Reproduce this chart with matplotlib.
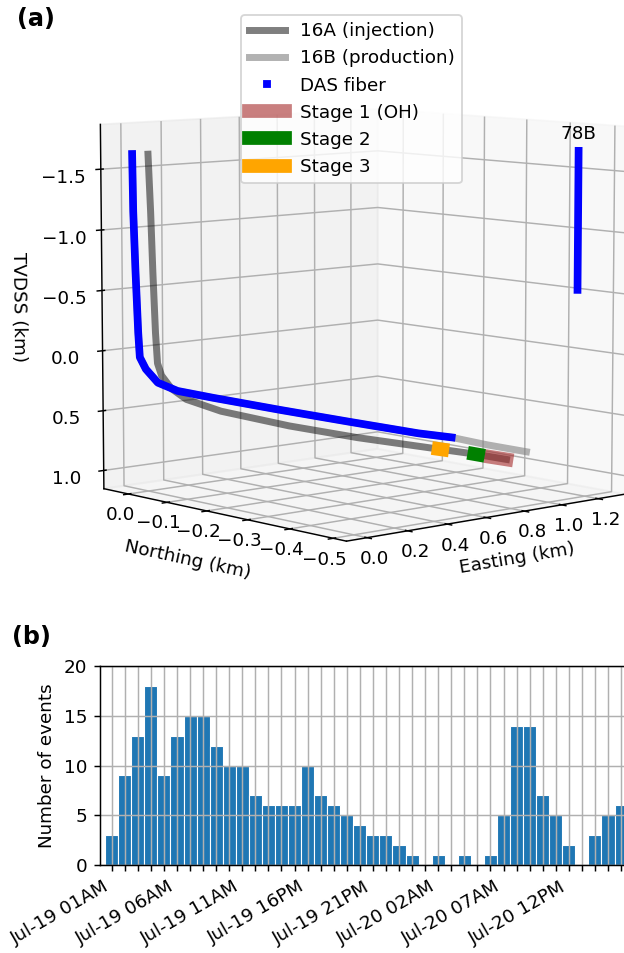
import matplotlib
matplotlib.use("Agg")
import matplotlib.pyplot as plt
from matplotlib.lines import Line2D
import numpy as np
import pandas as pd

# ---- (b) hourly event counts, first bin Jul-19 01:00 ----
event_counts = [3, 9, 13, 18, 9, 13, 15, 15, 12, 10, 10, 7, 6, 6, 6, 10, 7, 6, 5, 4,
                3, 3, 2, 1, 0, 1, 0, 1, 0, 1, 5, 14, 14, 7, 5, 2, 0, 3, 5, 6]
hours = pd.date_range("2024-07-19 01:00", periods=len(event_counts), freq="h")

# ---- (a) well trajectories in km: easting, northing, TVDSS ----
e_16a = [0.01, 0.015, 0.02, 0.025, 0.03, 0.04, 0.07, 0.115, 0.21, 0.405, 0.60, 0.80, 0.94, 1.03]
n_16a = [0.0, -0.003, -0.005, -0.008, -0.01, -0.015, -0.025, -0.04, -0.08, -0.155, -0.23, -0.305, -0.356, -0.392]
z_16a = [-1.63, -1.16, -0.66, -0.16, 0.09, 0.19, 0.30, 0.39, 0.485, 0.605, 0.70, 0.78, 0.835, 0.878]

e_16b = [-0.03, -0.027, -0.022, -0.015, -0.01, 0.01, 0.05, 0.11, 0.21, 0.405, 0.60, 0.80, 0.90, 1.00, 1.12]
n_16b = [0.02, 0.02, 0.018, 0.016, 0.015, 0.01, 0.0, -0.02, -0.06, -0.135, -0.21, -0.285, -0.32, -0.36, -0.40]
z_16b = [-1.63, -1.16, -0.66, -0.16, 0.045, 0.145, 0.26, 0.33, 0.385, 0.485, 0.58, 0.675, 0.71, 0.77, 0.83]
n_fiber_pts = 13  # fiber runs along 16B up to this point

e_78b = [1.25, 1.25]
n_78b = [-0.46, -0.46]
z_78b = [-1.66, -0.52]

# stage intervals along 16A (start, end)
stage1 = ([0.985, 1.03], [-0.376, -0.392], [0.858, 0.878])
stage2 = ([0.94, 0.95], [-0.356, -0.36], [0.835, 0.84])
stage3 = ([0.835, 0.845], [-0.318, -0.322], [0.793, 0.797])

DPI = 132
fig = plt.figure(figsize=(624 / DPI, 953 / DPI), dpi=DPI)

ax = fig.add_axes([0.076, 0.3437, 0.9856, 0.6453], projection="3d", computed_zorder=False)
ax.plot(e_16a, n_16a, z_16a, color="k", alpha=0.5, lw=3.8, zorder=2)
ax.plot(e_16b, n_16b, z_16b, color="gray", alpha=0.6, lw=3.8, zorder=2)
ax.plot(e_16b[:n_fiber_pts], n_16b[:n_fiber_pts], z_16b[:n_fiber_pts], color="b", lw=4.2, zorder=3)
ax.plot(e_78b, n_78b, z_78b, color="b", lw=4.2, zorder=3)
ax.text(e_78b[0], n_78b[0], z_78b[0] - 0.06, "78B", ha="center", va="bottom")
ax.plot(*stage1, color="brown", alpha=0.6, lw=7.5, zorder=4)
ax.plot(*stage2, color="green", lw=7.5, zorder=4)
ax.plot(*stage3, color="orange", lw=7.5, zorder=4)

ax.set_xlim(-0.1, 1.35)
ax.set_ylim(-0.53, 0.065)
ax.set_zlim(1.153, -1.867)
ax.set_zticks([-1.5, -1.0, -0.5, 0.0, 0.5, 1.0])
ax.set_box_aspect((1.008, 1.008, 1), zoom=1.0134)
ax.view_init(elev=7, azim=-131.6)
ax.tick_params(axis="x", pad=-3)
ax.tick_params(axis="y", pad=-3)
ax.tick_params(axis="z", pad=4.5)
ax.set_xlabel("Easting (km)", labelpad=-4)
ax.set_ylabel("Northing (km)", labelpad=-2)
ax.set_zlabel("TVDSS (km)", labelpad=7)

handles = [
    Line2D([], [], color="k", alpha=0.5, lw=3.8),
    Line2D([], [], color="gray", alpha=0.6, lw=3.8),
    Line2D([], [], color="b", ls="none", marker="s", ms=3),
    Line2D([], [], color="brown", alpha=0.6, lw=7.5),
    Line2D([], [], color="green", lw=7.5),
    Line2D([], [], color="orange", lw=7.5),
]
names = ["16A (injection)", "16B (production)", "DAS fiber",
         "Stage 1 (OH)", "Stage 2", "Stage 3"]
ax.legend(handles, names, loc="upper center", bbox_to_anchor=(0.5636, 0.994),
          bbox_transform=fig.transFigure)

# ---- (b) bar chart ----
ax2 = fig.add_axes([0.1603, 0.0923, 0.881, 0.2088])
x = np.arange(len(event_counts))
ax2.bar(x, event_counts, width=1.0, color="#1f77b4", edgecolor="white", linewidth=0.6)
ax2.set_xlim(-0.895, 41.2)
ax2.set_ylim(0, 20)
ax2.set_yticks([0, 5, 10, 15, 20])
ax2.set_xticks(x)
ax2.set_xticklabels([h.strftime("%b-%d %H%p") if i % 5 == 0 else "" for i, h in enumerate(hours)],
                    rotation=30, ha="right")
ax2.grid(True)
ax2.set_ylabel("Number of events")

fig.text(0.027, 0.980, "(a)", fontsize=13, fontweight="bold", va="center")
fig.text(0.02, 0.332, "(b)", fontsize=13, fontweight="bold", va="center")

fig.savefig("out.png", dpi=DPI)
